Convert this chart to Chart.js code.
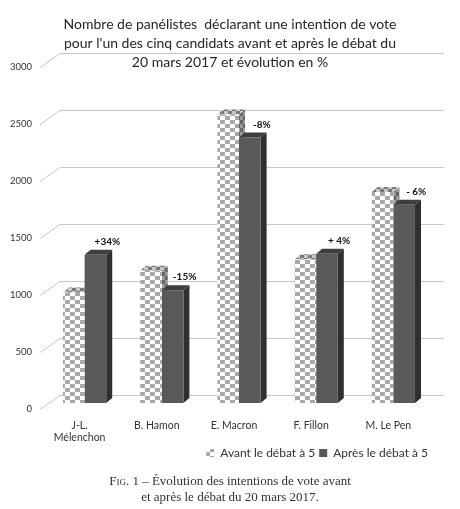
<!DOCTYPE html>
<html>
<head>
<meta charset="utf-8">
<script src="https://cdn.jsdelivr.net/npm/chart.js@4/dist/chart.umd.min.js"></script>
<style>
  html, body { margin: 0; padding: 0; background: #fff; }
  #wrap { position: relative; width: 460px; height: 509px; }
  #c { position: absolute; left: 0; top: 0; }
  #caption { position: absolute; left: 0; top: 473px; width: 460px; text-align: center;
    font-family: "Liberation Serif", "DejaVu Serif", serif; font-size: 13px; line-height: 16px; color: #333; }
  .sc { font-variant: small-caps; }
</style>
</head>
<body>
<div id="wrap">
  <canvas id="c" width="460" height="509"></canvas>
  <div id="caption"><span class="sc">Fig.</span> 1 – Évolution des intentions de vote avant<br>et après le débat du 20 mars 2017.</div>
</div>
<script>
const categories = [["J-L.", "Mélenchon"], "B. Hamon", "E. Macron", "F. Fillon", "M. Le Pen"];
const avantValues = [970, 1160, 2530, 1260, 1850];
const apresValues = [1300, 990, 2330, 1310, 1740];
const evolutionLabels = ["+34%", "-15%", "-8%", "+ 4%", "- 6%"];
const seriesNames = ["Avant le débat à 5", "Après le débat à 5"];
const yTicks = [0, 500, 1000, 1500, 2000, 2500, 3000];
const titleLines = [
  "Nombre de panélistes  déclarant une intention de vote",
  "pour l'un des cinq candidats avant et après le débat du",
  "20 mars 2017 et évolution en %"
];

function makePattern(light, dark, w, h) {
  const pc = document.createElement('canvas');
  pc.width = w * 2; pc.height = h * 2;
  const p = pc.getContext('2d');
  p.fillStyle = light; p.fillRect(0, 0, w * 2, h * 2);
  p.fillStyle = dark;
  p.fillRect(0, 0, w, h);
  p.fillRect(w, h, w, h);
  return document.getElementById('c').getContext('2d').createPattern(pc, 'repeat');
}
const avantFront = makePattern('#ffffff', '#a8a8a8', 5, 4);
const avantTop = makePattern('#c8c8c8', '#7a7a7a', 4, 3);
const avantSide = makePattern('#9a9a9a', '#666666', 3, 4);
const apresFront = '#595959';
const apresTop = '#3e3e3e';
const apresSide = '#2f2f2f';

const DX = 6, DY = 5;

const depthPlugin = {
  id: 'depth',
  beforeDatasetsDraw(chart) {
    const ctx = chart.ctx;
    const ys = chart.scales.y;
    ctx.save();
    ctx.strokeStyle = '#c8c8c8';
    ctx.lineWidth = 1;
    yTicks.forEach(v => {
      const yy = Math.round(ys.getPixelForValue(v)) + 0.5;
      ctx.beginPath();
      ctx.moveTo(40, yy + 6);
      ctx.lineTo(60, yy - 8);
      ctx.lineTo(444, yy - 8);
      ctx.stroke();
    });
    const sides = [[avantTop, avantSide], [apresTop, apresSide]];
    chart.data.datasets.forEach((ds, di) => {
      const meta = chart.getDatasetMeta(di);
      meta.data.forEach(bar => {
        const l = bar.x - bar.width / 2, r = bar.x + bar.width / 2;
        const t = bar.y, b = bar.base;
        ctx.fillStyle = sides[di][1];
        ctx.beginPath();
        ctx.moveTo(r, t); ctx.lineTo(r + DX, t - DY); ctx.lineTo(r + DX, b - DY); ctx.lineTo(r, b);
        ctx.closePath(); ctx.fill();
        ctx.fillStyle = sides[di][0];
        ctx.beginPath();
        ctx.moveTo(l, t); ctx.lineTo(l + DX, t - DY); ctx.lineTo(r + DX, t - DY); ctx.lineTo(r, t);
        ctx.closePath(); ctx.fill();
      });
    });
    ctx.restore();
  },
  afterDatasetsDraw(chart) {
    const ctx = chart.ctx;
    const meta = chart.getDatasetMeta(1);
    ctx.save();
    ctx.fillStyle = '#111';
    ctx.font = 'bold 10px Lato, "Open Sans", sans-serif';
    ctx.textAlign = 'center';
    ctx.textBaseline = 'middle';
    meta.data.forEach((bar, i) => {
      ctx.fillText(evolutionLabels[i], bar.x + 12, bar.y - 13);
    });
    ctx.restore();
  }
};

new Chart(document.getElementById('c'), {
  type: 'bar',
  data: {
    labels: categories,
    datasets: [
      { label: seriesNames[0], data: avantValues, backgroundColor: avantFront, borderWidth: 0 },
      { label: seriesNames[1], data: apresValues, backgroundColor: apresFront, borderWidth: 0 }
    ]
  },
  options: {
    responsive: false,
    animation: false,
    devicePixelRatio: 1,
    layout: { padding: { left: 0, right: 0, top: 0, bottom: 40 } },
    datasets: { bar: { categoryPercentage: 0.56, barPercentage: 1.0 } },
    scales: {
      x: {
        grid: { display: false, drawTicks: false },
        border: { display: false },
        ticks: { color: '#333', font: { family: 'Lato', size: 10.5 }, padding: 16, labelOffset: -5, maxRotation: 0, autoSkip: false },
        afterFit(s) { s.height = 40; }
      },
      y: {
        min: 0, max: 3000,
        grid: { display: false, drawTicks: false },
        border: { display: false },
        ticks: { stepSize: 500, color: '#333', font: { family: 'Lato', size: 9.5 }, padding: 14, labelOffset: 6,
          callback: v => String(v) },
        afterFit(s) { s.width = 46; }
      },
      y2: {
        position: 'right',
        min: 0, max: 3000,
        grid: { display: false, drawTicks: false },
        border: { display: false },
        ticks: { display: false },
        afterFit(s) { s.width = 28; }
      }
    },
    plugins: {
      title: {
        display: true,
        text: titleLines,
        color: '#262626',
        font: { family: 'Lato', size: 14, weight: 'normal', lineHeight: 19 / 14 },
        padding: { top: 14.5, bottom: -10.5 }
      },
      legend: {
        position: 'bottom',
        align: 'end',
        fullSize: false,
        labels: { boxWidth: 8, boxHeight: 8, color: '#333', font: { family: 'Lato', size: 12 }, padding: 4 }
      },
      tooltip: { enabled: false }
    }
  },
  plugins: [depthPlugin]
});
</script>
</body>
</html>
